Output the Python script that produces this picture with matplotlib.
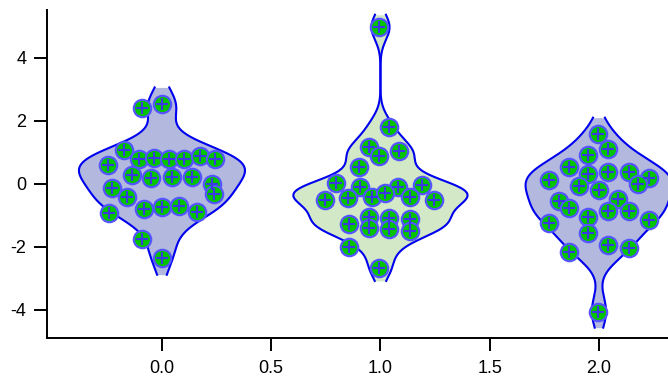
import numpy as np
import matplotlib
matplotlib.use('Agg')
import matplotlib.pyplot as plt

plt.rcParams['font.family'] = ['Liberation Sans', 'DejaVu Sans']

# group centres
positions = [0.0, 1.0, 2.0]

# horizontal offset of each point from its group centre, and its value
dx_0 = [-0.093, 0.00, -0.174, -0.246, -0.104, -0.035, 0.033, 0.102, 0.174, 0.243,
	-0.139, -0.052, 0.047, 0.139, 0.227, 0.238, -0.230, -0.159, -0.082, 0.00,
	0.078, 0.159, -0.241, -0.093, 0.00]
y_0 = [2.40, 2.54, 1.08, 0.60, 0.79, 0.83, 0.79, 0.79, 0.87, 0.79,
	0.29, 0.20, 0.23, 0.23, 0.00, -0.32, -0.14, -0.42, -0.79, -0.72,
	-0.69, -0.88, -0.91, -1.75, -2.36]

dx_1 = [-0.008, 0.037, -0.054, -0.005, 0.084, -0.099, -0.203, -0.092, 0.079, 0.191,
	-0.256, -0.150, -0.038, 0.023, 0.133, 0.244, -0.054, 0.038, 0.133, -0.142,
	-0.054, 0.038, 0.133, -0.146, -0.005]
y_1 = [4.97, 1.80, 1.18, 0.87, 1.06, 0.55, 0.02, -0.09, -0.10, -0.03,
	-0.51, -0.45, -0.40, -0.30, -0.43, -0.51, -1.04, -1.09, -1.11, -1.27,
	-1.39, -1.43, -1.51, -1.99, -2.68]

dx_2 = [-0.003, 0.043, -0.049, -0.139, -0.230, -0.049, 0.043, 0.136, 0.230, 0.180,
	-0.093, -0.001, -0.184, -0.139, 0.088, 0.043, 0.136, 0.227, -0.230, -0.049,
	-0.049, -0.139, 0.043, 0.136, -0.003]
y_2 = [1.59, 1.10, 0.92, 0.55, 0.13, 0.31, 0.39, 0.39, 0.18, -0.01,
	-0.06, -0.19, -0.53, -0.75, -0.49, -0.86, -0.86, -1.14, -1.23, -1.04,
	-1.55, -2.15, -1.94, -2.02, -4.05]

x_ticks = [0.0, 0.5, 1.0, 1.5, 2.0]
y_ticks = [-4, -2, 0, 2, 4]

fill_colors = ['#b2b8de', '#d2e8c6', '#b2b8de']


def kde(values):
	#Gaussian KDE with Silverman bandwidth, cut one bandwidth past the data
	v = np.asarray(values)
	n = len(v)
	iqr = np.percentile(v, 75) - np.percentile(v, 25)
	h = 0.9*min(np.std(v, ddof=1), iqr/1.34)*n**(-0.2)
	grid = np.linspace(v.min() - h, v.max() + h, 400)
	dens = np.exp(-0.5*((grid[:, None] - v[None, :])/h)**2).sum(axis=1)/(n*h*np.sqrt(2*np.pi))
	return grid, dens


def main():

	fig = plt.figure(figsize=(6.68, 3.81), dpi=100)
	ax = fig.add_axes([0.0704, 0.1129, 0.9296, 0.8609])

	groups = [(dx_0, y_0), (dx_1, y_1), (dx_2, y_2)]
	kdes = [kde(g[1]) for g in groups]
	scale = 0.38/kdes[0][1].max() #same area for every violin

	for i in range(3):
		grid, dens = kdes[i]
		pos = positions[i]
		ax.fill_betweenx(grid, pos - scale*dens, pos + scale*dens, color=fill_colors[i], lw=0, zorder=1)
		ax.plot(pos - scale*dens, grid, color='#0000ee', lw=1.5, zorder=2)
		ax.plot(pos + scale*dens, grid, color='#0000ee', lw=1.5, zorder=2)

	for i in range(3):
		xs = positions[i] + np.asarray(groups[i][0])
		ys = np.asarray(groups[i][1])
		ax.plot(xs, ys, 'o', ms=12.5, mfc='#00c400', mec='#5555ff', mew=1.6, zorder=3)
		ax.plot(xs, ys, '+', ms=8, mec='#3a3ae0', mew=1.5, zorder=4)

	ax.set_xlim(-0.526, 2.316)
	ax.set_ylim(-4.89, 5.52)
	ax.set_xticks(x_ticks)
	ax.set_xticklabels(['%.1f' % t for t in x_ticks])
	ax.set_yticks(y_ticks)
	ax.set_yticklabels([str(t) for t in y_ticks])

	ax.spines['top'].set_visible(False)
	ax.spines['right'].set_visible(False)
	ax.spines['left'].set_linewidth(1.4)
	ax.spines['bottom'].set_linewidth(1.4)
	ax.tick_params(direction='out', length=9.5, width=1.4, labelsize=13)
	ax.tick_params(axis='x', pad=6)
	ax.tick_params(axis='y', pad=5.5)

	fig.savefig('out.png', dpi=100)

	return


if __name__ == "__main__": main()
